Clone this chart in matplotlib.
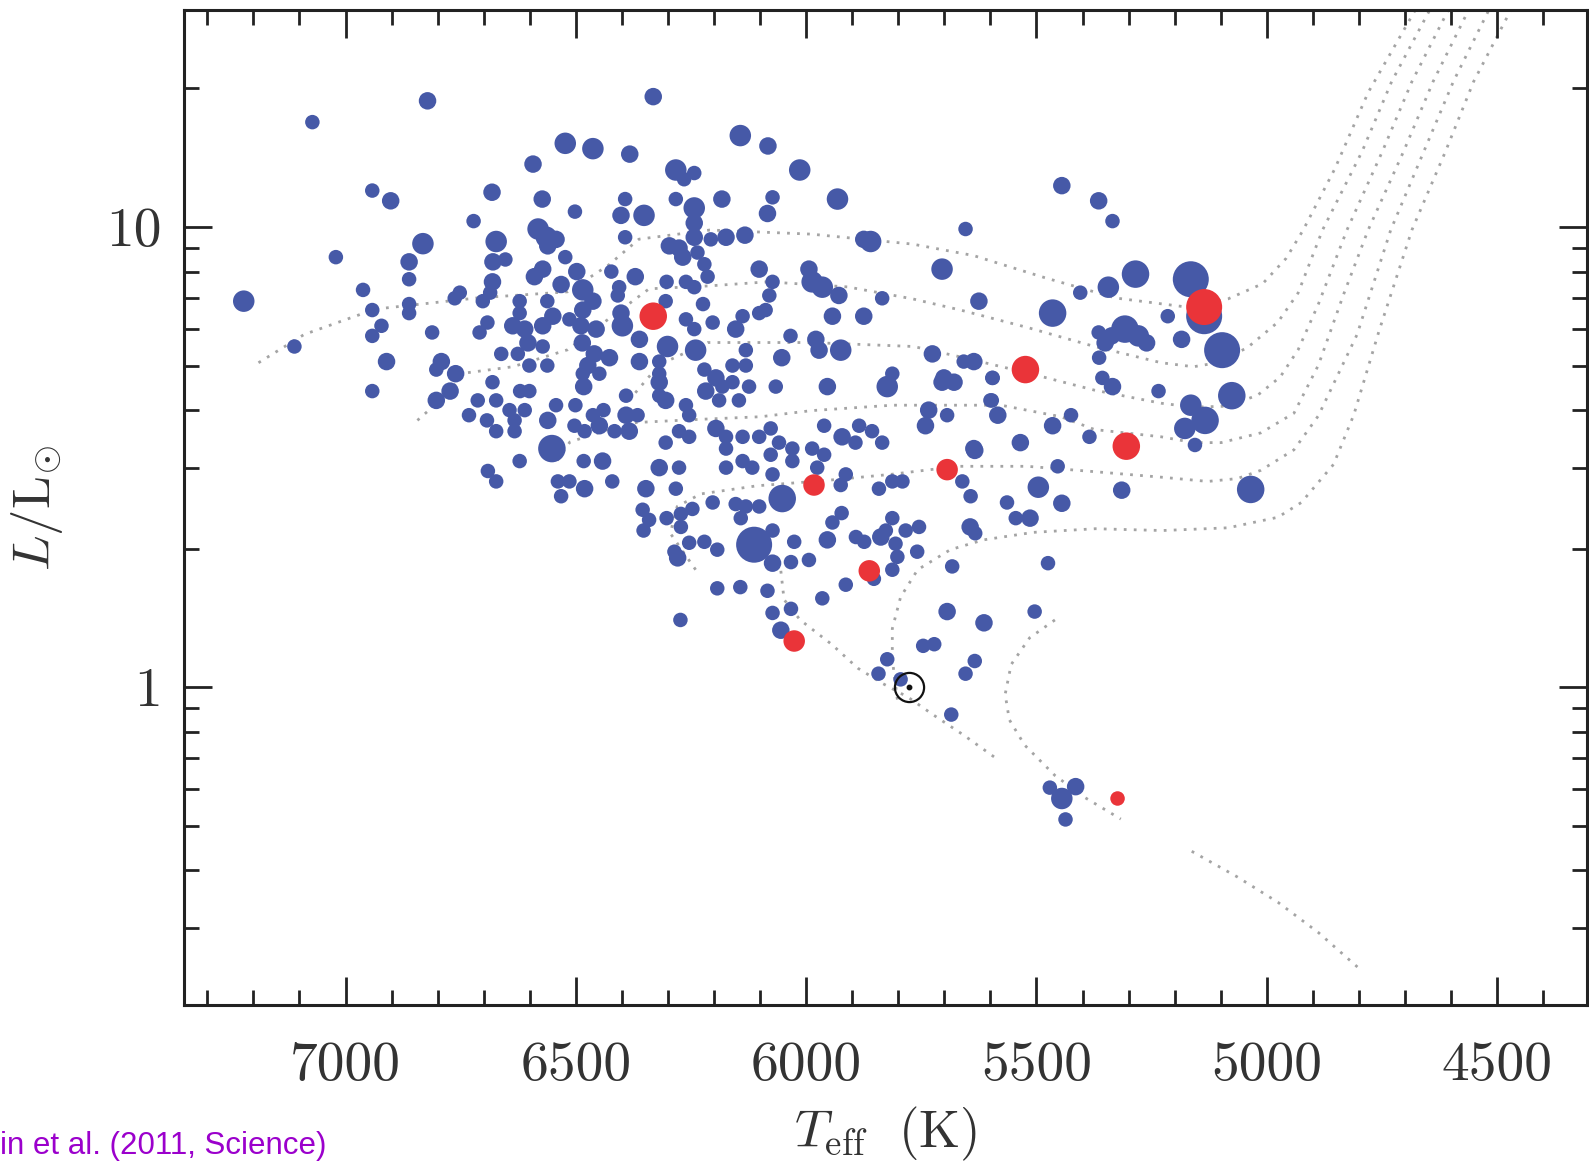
import matplotlib
matplotlib.use('Agg')
import matplotlib.pyplot as plt
from matplotlib.ticker import FixedLocator, NullFormatter

plt.rcParams['mathtext.fontset'] = 'cm'

# Kepler dwarfs/subgiants: effective temperature (K), luminosity (L_sun), symbol size class
teff_blue = [
    6822, 7072, 6523, 6463, 6593, 6942, 6902, 6682, 6573, 6502,
    6722, 6582, 6564, 6543, 6561, 6673, 6832, 6523, 6680, 6653,
    7021, 6862, 6572, 6590, 6498, 6423, 6862, 6681, 6532, 6485,
    7221, 6962, 6752, 6763, 6686, 6862, 6862, 6942, 6702, 6622,
    6562, 6463, 6485, 6514, 6622, 6550, 6572, 6637, 6611, 6489,
    6456, 6692, 6709, 6922, 6942, 6812, 7111, 6604, 6626, 6572,
    6486, 6460, 6427, 6662, 6792, 6911, 6601, 6562, 6474, 6449,
    6485, 6803, 6761, 6681, 6483, 6621, 6601, 6942, 6773, 6803,
    6713, 6673, 6543, 6501, 6611, 6644, 6732, 6693, 6633, 6561,
    6463, 6440, 6503, 6449, 6416, 6673, 6633, 6481, 6552, 6622,
    6483, 6442, 6691, 6673, 6539, 6514, 6421, 6532, 6481,
    6332, 6383, 6143, 6083, 6014, 6283, 6243, 6265, 6393, 6283,
    6183, 6073, 5932, 6402, 6352, 6243, 6084, 6243, 6393, 6243,
    6207, 6174, 6133, 6297, 6276, 6268, 6236, 5860, 5875, 5654,
    5705, 6102, 6221, 6214, 6371, 5994, 5987, 5965, 5929, 6303,
    6261, 6243, 6073, 6406, 6409, 5835, 5625, 6305, 6224, 6080,
    6088, 6102, 5943, 5875, 6402, 6261, 6203, 6138, 6153, 6243,
    6399, 6362, 6034, 5979, 6301, 6240, 6131, 6053, 5972, 5925,
    5726, 5636, 5658, 6362, 6319, 6160, 6131, 6221, 5596, 5813,
    5824, 5954, 5701, 5679, 5705, 6319, 6319, 6066, 6196, 6182,
    6218, 6160, 6124, 6189, 6391, 6146, 6305, 6319, 5734, 5694,
    5741, 5600, 6261, 6391, 6366, 6254, 6384, 6196, 6276, 6254,
    6174, 6138, 6102, 6077, 5961, 5922, 5885, 5857, 5835, 5893,
    5636, 6059, 6305, 6174, 6138, 6077, 6030, 5987, 5961, 6319,
    6276, 6174, 6117, 6073, 6030, 5976, 5661, 5914, 5925, 5813,
    5791, 5842, 6348, 6283, 5643,
    6153, 6131, 6102, 6142, 6052, 6203, 6247, 6272, 6303, 6272,
    6355, 6341, 6353, 6073, 6113, 6073, 6026, 6033, 6254, 6221,
    6193, 6279, 6286, 6193, 6143, 6084, 6273, 6073, 6033, 6055,
    5994, 5954, 5892, 5874, 5838, 5827, 5813, 5806, 5802, 5784,
    5755, 5759, 5813, 5853, 5914, 5965, 5923, 5943, 5683, 5694,
    5614, 5504, 5475, 5746, 5722, 5824, 5843, 5795, 5634, 5654,
    5445, 5365, 5335, 5465, 5405, 5344, 5285, 5165, 5136, 5215,
    5365, 5308, 5337, 5279, 5261, 5351, 5185, 5097, 5364, 5595,
    5357, 5335, 5235, 5165, 5076, 5134, 5178, 5156, 5597, 5584,
    5425, 5465, 5385, 5535, 5634, 5454, 5496, 5315, 5035, 5564,
    5445, 5545, 5514, 5644, 5633,
    5685, 5471, 5445, 5415, 5437,
]
lum_blue = [
    18.8, 16.9, 15.2, 14.8, 13.7, 12.0, 11.4, 11.9, 11.5, 10.8,
    10.3, 9.9, 9.5, 9.4, 9.1, 9.3, 9.2, 8.6, 8.4, 8.5,
    8.6, 8.4, 8.1, 7.8, 8.0, 8.0, 7.7, 7.6, 7.5, 7.3,
    6.9, 7.3, 7.2, 7.0, 7.2, 6.8, 6.5, 6.6, 6.9, 6.9,
    6.9, 6.9, 6.6, 6.3, 6.5, 6.4, 6.1, 6.1, 6.0, 6.1,
    6.0, 6.2, 5.9, 6.1, 5.8, 5.9, 5.5, 5.6, 5.3, 5.5,
    5.6, 5.3, 5.2, 5.3, 5.1, 5.1, 5.0, 5.0, 5.0, 4.8,
    4.8, 4.9, 4.8, 4.6, 4.5, 4.4, 4.4, 4.4, 4.4, 4.2,
    4.2, 4.2, 4.1, 4.1, 4.0, 4.0, 3.9, 3.8, 3.8, 3.8,
    3.9, 4.0, 3.7, 3.7, 3.6, 3.6, 3.6, 3.6, 3.3, 3.1,
    3.1, 3.1, 2.95, 2.8, 2.8, 2.8, 2.8, 2.6, 2.7,
    19.2, 14.4, 15.8, 15.0, 13.3, 13.3, 13.1, 12.7, 11.5, 11.5,
    11.5, 11.6, 11.5, 10.6, 10.6, 11.0, 10.7, 10.2, 9.5, 9.5,
    9.4, 9.5, 9.6, 9.1, 9.0, 8.6, 8.8, 9.3, 9.4, 9.9,
    8.1, 8.1, 8.3, 7.8, 7.8, 8.1, 7.6, 7.4, 7.1, 7.6,
    7.6, 7.4, 7.6, 7.4, 7.1, 7.0, 6.9, 6.9, 6.8, 7.1,
    6.6, 6.5, 6.4, 6.4, 6.5, 6.3, 6.2, 6.4, 6.0, 6.0,
    6.1, 5.7, 5.8, 5.7, 5.5, 5.4, 5.4, 5.2, 5.4, 5.4,
    5.3, 5.1, 5.1, 5.1, 5.1, 5.0, 5.0, 4.9, 4.7, 4.8,
    4.5, 4.5, 4.7, 4.6, 4.6, 4.8, 4.6, 4.5, 4.7, 4.5,
    4.4, 4.6, 4.5, 4.2, 4.3, 4.2, 4.2, 4.3, 4.0, 3.9,
    3.7, 4.2, 4.1, 3.9, 3.9, 3.9, 3.6, 3.65, 3.6, 3.5,
    3.5, 3.5, 3.5, 3.65, 3.7, 3.5, 3.7, 3.6, 3.4, 3.4,
    3.3, 3.4, 3.4, 3.3, 3.1, 3.2, 3.3, 3.3, 3.2, 3.0,
    3.0, 3.0, 3.0, 2.9, 3.1, 3.0, 2.8, 2.9, 2.75, 2.8,
    2.8, 2.7, 2.7, 2.7, 2.6,
    2.5, 2.47, 2.47, 2.33, 2.57, 2.52, 2.44, 2.38, 2.33, 2.23,
    2.43, 2.31, 2.19, 2.19, 2.04, 1.86, 2.07, 1.87, 2.06, 2.07,
    1.99, 1.91, 1.97, 1.64, 1.65, 1.62, 1.40, 1.45, 1.48, 1.33,
    1.89, 2.09, 2.12, 2.07, 2.12, 2.19, 2.33, 2.05, 1.92, 2.19,
    2.23, 1.97, 1.80, 1.72, 1.67, 1.56, 2.39, 2.28, 1.83, 1.46,
    1.38, 1.46, 1.86, 1.23, 1.24, 1.15, 1.07, 1.04, 1.14, 1.07,
    12.3, 11.4, 10.3, 6.5, 7.2, 7.4, 7.9, 7.7, 6.4, 6.4,
    5.9, 6.0, 5.8, 5.8, 5.6, 5.6, 5.7, 5.4, 5.2, 4.7,
    4.7, 4.5, 4.4, 4.1, 4.3, 3.8, 3.65, 3.36, 4.2, 3.9,
    3.9, 3.7, 3.5, 3.40, 3.27, 3.02, 2.72, 2.68, 2.69, 2.52,
    2.51, 2.33, 2.33, 2.23, 2.16,
    0.872, 0.605, 0.573, 0.608, 0.516,
]
size_blue = [
    2, 1, 3, 3, 2, 1, 2, 2, 2, 1,
    1, 3, 3, 2, 2, 3, 3, 1, 2, 1,
    1, 2, 2, 2, 2, 1, 1, 2, 2, 3,
    3, 1, 1, 1, 1, 1, 1, 1, 1, 1,
    1, 2, 2, 1, 1, 2, 2, 2, 2, 2,
    2, 1, 1, 1, 1, 1, 1, 2, 1, 1,
    2, 2, 2, 1, 2, 2, 1, 1, 2, 1,
    1, 1, 2, 1, 2, 1, 1, 1, 2, 2,
    1, 1, 1, 1, 1, 1, 1, 1, 1, 2,
    1, 1, 1, 2, 1, 1, 1, 1, 4, 1,
    1, 2, 1, 1, 1, 1, 1, 1, 2,
    2, 2, 3, 2, 3, 3, 1, 1, 1, 1,
    2, 1, 3, 2, 3, 3, 2, 2, 1, 2,
    1, 2, 2, 2, 2, 2, 1, 3, 2, 1,
    3, 2, 1, 1, 2, 2, 3, 3, 2, 1,
    1, 1, 1, 1, 1, 1, 2, 1, 1, 1,
    1, 1, 2, 2, 2, 1, 1, 1, 2, 1,
    3, 2, 1, 2, 3, 3, 1, 2, 2, 3,
    2, 2, 1, 2, 1, 1, 1, 1, 1, 1,
    3, 2, 2, 2, 2, 1, 2, 1, 2, 1,
    2, 1, 1, 1, 1, 1, 2, 1, 2, 1,
    2, 1, 1, 2, 1, 1, 2, 2, 1, 1,
    1, 1, 1, 1, 1, 2, 1, 1, 1, 1,
    2, 1, 1, 1, 1, 1, 1, 1, 1, 2,
    1, 1, 1, 1, 1, 1, 1, 1, 1, 1,
    1, 1, 2, 1, 1,
    1, 1, 1, 1, 4, 1, 1, 1, 1, 1,
    1, 1, 1, 1, 5, 2, 1, 1, 1, 1,
    1, 2, 1, 1, 1, 1, 1, 1, 1, 2,
    1, 2, 1, 1, 2, 1, 1, 1, 1, 1,
    1, 1, 1, 1, 1, 1, 1, 1, 1, 2,
    2, 1, 1, 1, 1, 1, 1, 1, 1, 1,
    2, 2, 1, 4, 1, 3, 4, 5, 5, 1,
    1, 4, 2, 3, 2, 2, 2, 5, 1, 1,
    1, 2, 1, 3, 4, 4, 3, 1, 1, 2,
    1, 2, 1, 2, 2, 1, 3, 2, 4, 1,
    2, 1, 2, 2, 1,
    1, 1, 3, 2, 1,
]

# highlighted stars
teff_red = [6332, 5983, 5694, 5863, 6026, 5136, 5524, 5305, 5324]
lum_red = [6.4, 2.75, 2.97, 1.79, 1.26, 6.7, 4.9, 3.34, 0.573]
size_red = [4, 3, 3, 3, 3, 5, 4, 4, 1]

# the Sun
teff_sun = 5777
lum_sun = 1.0

# evolutionary tracks (Teff, L)
track1_teff = [7189, 7090, 6936, 6716, 6518, 6430, 6363, 6209, 5989, 5769, 5637, 5482,
               5328, 5174, 5084, 5009, 4958, 4921, 4852, 4780, 4672]
track1_lum = [5.07, 5.84, 6.63, 7.01, 7.23, 8.25, 9.41, 9.85, 9.65, 9.18, 8.67, 7.76,
              7.01, 6.70, 6.98, 7.53, 8.55, 9.85, 13.4, 19.6, 30.3]
track2_teff = [6844, 6795, 6738, 6637, 6518, 6430, 6341, 6209, 6084, 5910, 5769, 5665,
               5520, 5374, 5229, 5159, 5108, 5042, 4976, 4932, 4879, 4793, 4729, 4641]
track2_lum = [3.80, 4.20, 4.82, 4.97, 5.41, 6.30, 7.34, 7.45, 7.60, 7.41, 6.98, 6.60,
              6.05, 5.50, 5.07, 4.97, 5.07, 5.47, 6.21, 7.19, 9.85, 14.6, 20.7, 30.3]
track3_teff = [6385, 6319, 6214, 5989, 5767, 5665, 5520, 5374, 5229, 5159, 5086, 5020,
               4971, 4932, 4888, 4826, 4749, 4685, 4601]
track3_lum = [4.20, 5.02, 5.61, 5.61, 5.50, 5.22, 4.82, 4.42, 4.14, 4.06, 4.08, 4.31,
              4.72, 5.41, 6.80, 9.85, 14.6, 20.7, 30.3]
track4_teff = [6540, 6513, 6430, 6368, 6231, 6099, 5989, 5813, 5665, 5577, 5447, 5374,
               5229, 5159, 5099, 5013, 4941, 4888, 4833, 4780, 4703, 4639, 4557]
track4_lum = [3.11, 3.41, 3.63, 3.76, 3.82, 3.87, 3.99, 4.10, 4.10, 4.10, 3.87, 3.63,
              3.50, 3.40, 3.40, 3.57, 3.94, 5.01, 7.15, 9.85, 14.6, 20.7, 30.3]
track5_teff = [6240, 6295, 6280, 6229, 6106, 5963, 5817, 5670, 5520, 5374, 5229, 5128,
               5064, 5013, 4941, 4888, 4804, 4731, 4659, 4595, 4513]
track5_lum = [1.80, 2.16, 2.47, 2.63, 2.74, 2.81, 2.90, 3.02, 3.02, 2.94, 2.86, 2.80,
              2.84, 2.96, 3.28, 3.89, 5.84, 9.85, 14.6, 20.7, 30.3]
track6_teff = [5802, 5813, 5813, 5795, 5758, 5687, 5615, 5507, 5372, 5227, 5084, 4976,
               4925, 4855, 4811, 4756, 4685, 4612, 4551, 4465]
track6_lum = [0.94, 1.15, 1.34, 1.57, 1.80, 1.99, 2.09, 2.17, 2.21, 2.19, 2.22, 2.34,
              2.52, 3.05, 3.91, 5.96, 9.85, 14.6, 20.7, 30.3]
track7_teff = [5460, 5515, 5555, 5568, 5559, 5526, 5460, 5394, 5317]
track7_lum = [1.40, 1.28, 1.12, 0.965, 0.85, 0.749, 0.643, 0.575, 0.517]
track8_teff = [6055, 6048, 6013, 5945, 5888, 5835, 5778, 5725, 5659, 5582]
track8_lum = [1.79, 1.55, 1.40, 1.24, 1.10, 1.02, 0.95, 0.872, 0.788, 0.694]
track9_teff = [5163, 5064, 4976, 4888, 4800]
track9_lum = [0.440, 0.387, 0.341, 0.293, 0.245]

tracks = [(track1_teff, track1_lum), (track2_teff, track2_lum), (track3_teff, track3_lum),
          (track4_teff, track4_lum), (track5_teff, track5_lum), (track6_teff, track6_lum),
          (track7_teff, track7_lum), (track8_teff, track8_lum), (track9_teff, track9_lum)]

# symbol diameter in pixels for each size class
diam_px = {1: 14.5, 2: 17.5, 3: 21.5, 4: 27.5, 5: 36.0}


def area(classes):
    return [(diam_px[c] * 0.72) ** 2 for c in classes]


fig = plt.figure(figsize=(15.89, 11.63), dpi=100)
ax = fig.add_axes([0.1160, 0.1356, 0.8827, 0.8557])

for t, l in tracks:
    ax.plot(t, l, color='#a4a4a4', lw=2.0, ls=(0, (1.0, 2.6)), zorder=1)

ax.scatter(teff_blue, lum_blue, s=area(size_blue), c='#4659a7', linewidths=0, zorder=3)
ax.scatter(teff_red, lum_red, s=area(size_red), c='#ea3439', linewidths=0, zorder=4)

# solar symbol
ax.plot([teff_sun], [lum_sun], marker='o', ms=21, mfc='none', mec='#111111', mew=1.6, zorder=5)
ax.plot([teff_sun], [lum_sun], marker='o', ms=3.2, color='#111111', zorder=5)

ax.set_yscale('log')
ax.set_xlim(7350, 4305)
ax.set_ylim(0.2036, 29.6)

ax.xaxis.set_major_locator(FixedLocator([7000, 6500, 6000, 5500, 5000, 4500]))
ax.xaxis.set_minor_locator(FixedLocator(list(range(4400, 7400, 100))))
ax.set_xticklabels(['7000', '6500', '6000', '5500', '5000', '4500'],
                   fontfamily='cmr10', fontsize=40, color='#333333')

ax.yaxis.set_major_locator(FixedLocator([1, 10]))
ax.yaxis.set_minor_locator(FixedLocator([0.3, 0.4, 0.5, 0.6, 0.7, 0.8, 0.9,
                                         2, 3, 4, 5, 6, 7, 8, 9, 20]))
ax.yaxis.set_minor_formatter(NullFormatter())
ax.set_yticklabels(['1', '10'], fontfamily='cmr10', fontsize=40, color='#333333')

ax.tick_params(which='both', direction='in', top=True, right=True, color='#222222', width=2.0)
ax.tick_params(which='major', length=20)
ax.tick_params(which='minor', length=10.5)
ax.tick_params(axis='x', which='major', pad=26)
ax.tick_params(axis='y', which='major', pad=16)
for sp in ax.spines.values():
    sp.set_linewidth(2.2)
    sp.set_color('#222222')

ax.set_xlabel(r'$T_{\mathrm{eff}}\ \ (\mathrm{K})$', fontsize=38, color='#333333')
ax.xaxis.set_label_coords(0.5, -0.1)
ax.set_ylabel(r'$L/\mathrm{L}_{\odot}$', fontsize=38, color='#333333')
ax.yaxis.set_label_coords(-0.085, 0.5)

fig.text(0.0, 0.0150, 'in et al. (2011, Science)', color='#9b00cc', fontsize=22.5,
         family='Liberation Sans', va='center', ha='left')

fig.savefig('out.png', dpi=100)
